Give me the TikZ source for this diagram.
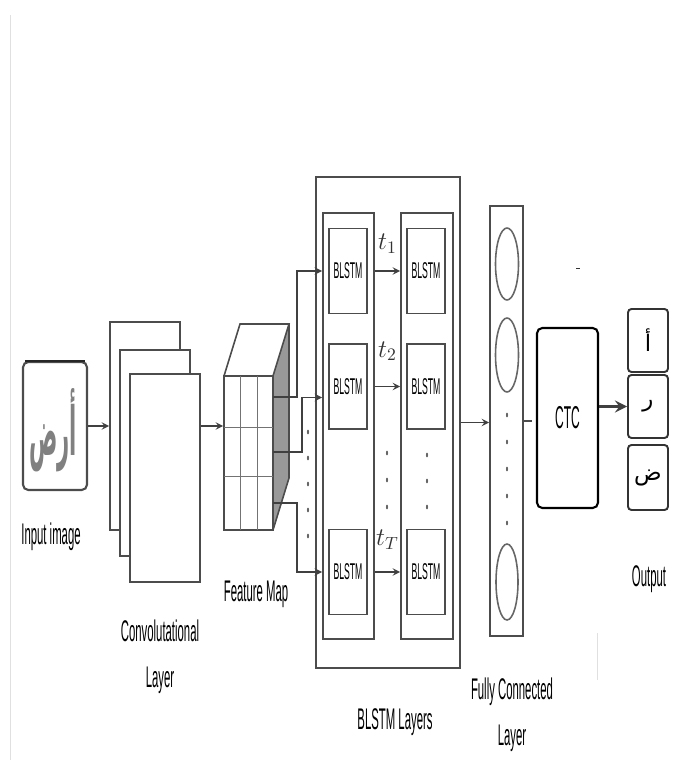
\documentclass[tikz,border=0pt]{standalone}
\usepackage{fontspec}
\setmainfont{Liberation Sans}[FakeStretch=0.38]
\newfontfamily\arabicfont[Script=Arabic]{DejaVu Sans}
\TeXXeTstate=1
\usetikzlibrary{calc}

\tikzset{
  box/.style={draw=black!70, line width=0.9pt, fill=white, inner sep=0pt},
  blstm/.style={box, minimum width=0.76cm, minimum height=1.7cm, font=\fontsize{13}{15}\selectfont},
  outbox/.style={draw=black!80, line width=1.1pt, rounded corners=2pt, minimum width=0.8cm, inner sep=0pt, font=\arabicfont\fontsize{13}{13}\selectfont},
  lbl/.style={font=\fontsize{17}{26.4}\selectfont, align=center},
  conn/.style={->, black!75, line width=0.9pt},
  tlbl/.style={font=\fontsize{14}{16}\selectfont, black!80}
}

\begin{document}
\begin{tikzpicture}[x=0.02cm, y=-0.02cm, >=stealth]
    \useasboundingbox (0,0) rectangle (680,760);
    % faint page edges
    \draw[black!12] (10,15) -- (10,760);
    \draw[black!12] (597,633) -- (597,680);

    % input image
    \node[box, rounded corners=3pt, line width=1.2pt, minimum width=1.28cm, minimum height=2.56cm] (inp) at (55,426) {};
    \draw[black!85, line width=1.6pt] ([xshift=2pt]inp.north west) -- ([xshift=-2pt]inp.north east);
    \node[black!50] (hand) at (53,430) {\scalebox{0.5}[1.6]{\arabicfont\bfseries\fontsize{24}{24}\selectfont\beginR أرض\endR}};
    \node[lbl] (inplbl) at (51,537) {Input image};

    % convolutional layer
    \node[box, minimum width=1.4cm, minimum height=4.16cm] (cv1) at (145,426) {};
    \node[box, minimum width=1.4cm, minimum height=4.12cm] (cv2) at (155,453) {};
    \node[box, minimum width=1.4cm, minimum height=4.16cm] (cv3) at (165,478) {};
    \node[lbl] (cvlbl) at (160,656.5) {Convolutational\\Layer};
    \draw[conn] (inp.east) -- (inp.east -| cv1.west);

    % feature map
    \fill[black!40] (273,376) -- (289,324) -- (289,478) -- (273,530) -- cycle;
    \draw[black!70, line width=0.9pt] (224,376) -- (240,324) -- (289,324) -- (273,376);
    \draw[black!70, line width=0.9pt] (289,324) -- (289,478) -- (273,530);
    \node[box, minimum width=0.98cm, minimum height=3.08cm] (fm) at (248.5,453) {};
    \draw[black!55] (240,376) -- (240,530) (257,376) -- (257,530)
                    (224,427) -- (273,427) (224,476) -- (273,476);
    \node[lbl] (fmlbl) at (256,594) {Feature Map};
    \draw[conn] (cv3.east |- inp.east) -- (fm.west |- inp.east);

    % BLSTM layers
    \node[box, minimum width=2.88cm, minimum height=9.82cm] (blo) at (388,422.5) {};
    \node[box, minimum width=1.02cm, minimum height=8.52cm] (col1) at (348.5,426) {};
    \node[box, minimum width=1.04cm, minimum height=8.52cm] (col2) at (427,426) {};
    \node[blstm] (b11) at (348,271) {BLSTM};
    \node[blstm] (b12) at (426,271) {BLSTM};
    \node[blstm] (b21) at (348,386.5) {BLSTM};
    \node[blstm] (b22) at (426,386.5) {BLSTM};
    \node[blstm] (b31) at (348,572) {BLSTM};
    \node[blstm] (b32) at (426,572) {BLSTM};
    \draw[conn] (col1.east |- b11) -- (col2.west |- b11) node[tlbl, midway, above=0.22cm] {$t_1$};
    \draw[conn] (col1.east |- b21) -- (col2.west |- b21) node[tlbl, midway, above=0.38cm] {$t_2$};
    \draw[conn] (col1.east |- b31) -- (col2.west |- b31) node[tlbl, midway, above=0.32cm] {$t_T$};
    \node[lbl] (blbl) at (395,722) {BLSTM Layers};

    % feature map -> BLSTM
    \coordinate (f1) at (273,397);
    \coordinate (f2) at (273,452);
    \coordinate (f3) at (273,503);
    \draw[conn] (f1) -- (297,397) |- (col1.west |- b11);
    \draw[conn] (f2) -- (302,452) |- ($(col1.west |- b21)+(0,11)$);
    \draw[conn] (f3) -- (297,503) |- (col1.west |- b31);

    % dots
    \foreach \y in {432,458,484,510,536} \fill[black!60] (308,\y) ellipse (0.6pt and 1.3pt);
    \foreach \y in {453,480,507} \fill[black!60] (387,\y) ellipse (0.6pt and 1.3pt);
    \foreach \y in {455,481,507} \fill[black!60] (427,\y) ellipse (0.6pt and 1.3pt);

    % fully connected
    \node[box, minimum width=0.66cm, minimum height=8.6cm] (fc) at (506.5,421) {};
    \draw[black!60, line width=0.9pt] (507,264) ellipse (0.23cm and 0.72cm);
    \draw[black!60, line width=0.9pt] (507,355) ellipse (0.23cm and 0.74cm);
    \draw[black!60, line width=0.9pt] (507,582) ellipse (0.22cm and 0.76cm);
    \foreach \y in {415,442,469,496,523} \fill[black!60] (507,\y) ellipse (0.6pt and 1.3pt);
    \draw[conn] (blo.east) -- (blo.east -| fc.west);
    \node[lbl] (fclbl) at (512,715) {Fully Connected\\Layer};

    % CTC
    \node[box, draw=black, line width=1.2pt, rounded corners=3pt, minimum width=1.22cm, minimum height=3.6cm, font=\fontsize{18}{20}\selectfont] (ctc) at (567.5,418) {CTC};
    \draw[black!70, line width=0.9pt, shorten >=0.08cm] (fc.east) -- (fc.east -| ctc.west);
    \fill[black!80] (576,267.5) rectangle (580,269);

    % output
    \node[outbox, minimum height=1.26cm] (o1) at (648,340.5) {أ};
    \node[outbox, minimum height=1.26cm] (o2) at (648,406.5) {ر};
    \node[outbox, minimum height=1.3cm] (o3) at (648,477.5) {ض};
    \draw[->, black!75, line width=2pt] (ctc.east |- o2.west) -- (o2.west);
    \node[lbl] (outlbl) at (649,579) {Output};
\end{tikzpicture}
\end{document}
